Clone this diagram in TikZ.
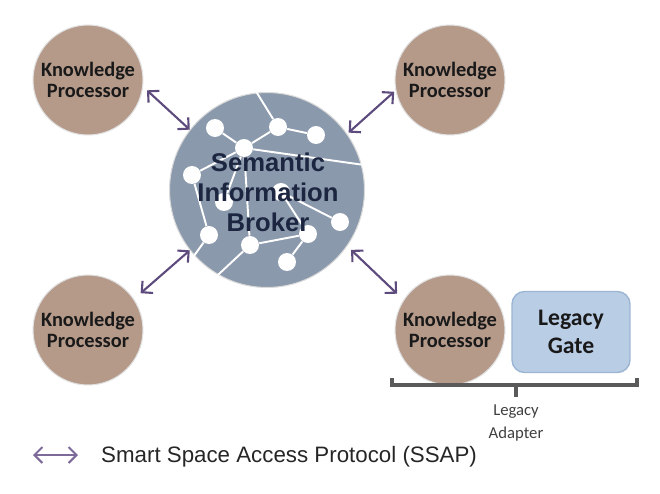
\documentclass[tikz,border=0pt]{standalone}
\usepackage{fontspec}
\setmainfont{Carlito}
\newfontfamily\arialfont{Liberation Sans}
\usetikzlibrary{arrows.meta}
\definecolor{kpbrown}{HTML}{B59A8A}
\definecolor{sibblue}{HTML}{8B99AD}
\definecolor{sibtext}{HTML}{1C2640}
\definecolor{gatefill}{HTML}{B9CDE5}
\definecolor{gateline}{HTML}{9CB5D3}
\definecolor{ssap}{HTML}{5E4B7D}
\definecolor{ssaplight}{HTML}{7D6A99}
\definecolor{bracegray}{HTML}{5A5A5A}
\tikzset{
  kproc/.style={circle, fill=kpbrown, draw=black!12, line width=0.6pt, minimum size=2.2cm, inner sep=0pt, align=center, font=\fontsize{11.6}{11.6}\selectfont\bfseries, text=black!90},
  broker/.style={circle, fill=sibblue, draw=black!15, line width=0.6pt, minimum size=3.9cm, inner sep=0pt},
  kdot/.style={circle, fill=white, minimum size=0.36cm, inner sep=0pt},
  link/.style={white, line width=1.1pt},
  gate/.style={draw=gateline, fill=gatefill, line width=0.8pt, rounded corners=0.25cm, minimum width=2.36cm, minimum height=1.62cm, align=center, font=\fontsize{13.5}{15.5}\selectfont\bfseries, text=black!90},
  flow/.style={{Straight Barb[length=1.6mm,width=3.2mm]}-{Straight Barb[length=1.6mm,width=3.2mm]}, ssap, line width=1.2pt},
}

\begin{document}
\begin{tikzpicture}[x=0.02cm, y=-0.02cm]
    \useasboundingbox (0,0) rectangle (660,494);
    % knowledge processors and the broker
    \node[kproc] (kpa) at (88,80) {Knowledge\\Processor};
    \node[kproc] (kpb) at (450,80) {Knowledge\\Processor};
    \node[kproc] (kpc) at (88,330) {Knowledge\\Processor};
    \node[kproc] (kpd) at (450,330) {Knowledge\\Processor};
    \node[broker] (sib) at (267,190) {};
    % network inside the broker
    \node[kdot] (n1) at (215,128) {};
    \node[kdot] (n2) at (278,127) {};
    \node[kdot] (n3) at (316,135) {};
    \node[kdot] (n4) at (244,148) {};
    \node[kdot] (n5) at (192,175) {};
    \node[kdot] (n6) at (224,202) {};
    \node[kdot] (n7) at (281,192) {};
    \node[kdot] (n9) at (209,235) {};
    \node[kdot] (n10) at (250,245) {};
    \node[kdot] (n11) at (308,234) {};
    \node[kdot] (n12) at (340,222) {};
    \node[kdot] (n13) at (287,262) {};
    \draw[link] (sib.96) -- (n2);
    \draw[link] (n2) -- (n4);
    \draw[link] (n2) -- (n3);
    \draw[link] (n1) -- (n4);
    \draw[link] (n4) -- (n5);
    \draw[link] (n4) -- (sib.15);
    \draw[link] (n4) -- (n10);
    \draw[link] (n4) -- (n6);
    \draw[link] (n5) -- (n9);
    \draw[link] (n9) -- (sib.222);
    \draw[link] (n10) -- (n11);
    \draw[link] (n10) -- (sib.240);
    \draw[link] (n11) -- (n13);
    \draw[link] (n7) -- (n11);
    \draw[link] (n7) -- (n12);
    \node[font=\arialfont\bfseries\fontsize{14.6}{17}\selectfont, text=sibtext, align=center] (sibl) at (268,192) {Semantic\\Information\\Broker};
    % SSAP links
    \draw[flow, shorten <=3pt] (kpa.-7) -- (sib.142);
    \draw[flow, shorten <=1pt, shorten >=1pt] (kpb.191) -- (sib.35);
    \draw[flow, shorten <=5pt] (kpc.34) -- (sib.218);
    \draw[flow, shorten <=5pt, shorten >=3pt] (kpd.147) -- (sib.-35);
    % legacy adapter
    \node[gate] (gate) at (571,332) {Legacy\\Gate};
    \coordinate (bl) at (392,385);
    \coordinate (br) at (637,385);
    \coordinate (bm) at (516,385);
    \draw[bracegray, line width=2pt] ([yshift=4pt]bl) -- (bl) -- (br) -- ([yshift=4pt]br);
    \draw[bracegray, line width=2pt] (bm) -- ([yshift=-7pt]bm);
    \node[font=\fontsize{9.5}{13}\selectfont, text=black!75, align=center] (adapter) at (516,423) {Legacy\\Adapter};
    % legend
    \coordinate (lga) at (33,455);
    \coordinate (lgb) at (78,455);
    \draw[flow, ssaplight] (lga) -- (lgb);
    \node[anchor=west, font=\arialfont\fontsize{12.7}{15}\selectfont, text=black!85] (legend) at (95,457) {Smart Space Access Protocol (SSAP)};
\end{tikzpicture}
\end{document}
